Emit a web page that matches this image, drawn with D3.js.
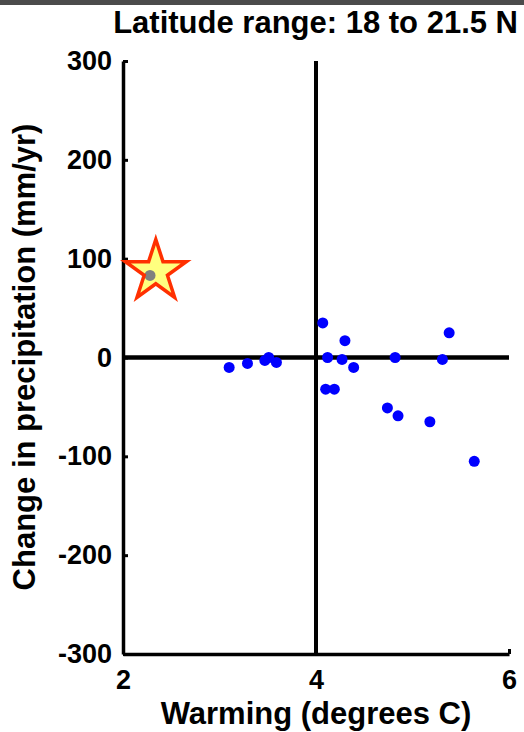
<!DOCTYPE html>
<html>
<head>
<meta charset="utf-8">
<script src="https://cdn.jsdelivr.net/npm/d3@7"></script>
<style>
  html, body { margin: 0; padding: 0; background: #fff; }
  svg { display: block; }
  text { font-family: "Liberation Sans", Arial, Helvetica, sans-serif; font-weight: bold; fill: #000; }
</style>
</head>
<body>
<script>
// Model ensemble: warming vs. change in precipitation
const warming = [3.10, 3.29, 3.47, 3.51, 3.59, 4.07, 4.12, 4.27, 4.30, 4.39, 4.10, 4.19, 4.82, 4.74, 4.85, 5.18, 5.38, 5.31, 5.64];
const precip  = [-10, -6, -3, 0, -5, 35, 0, -2, 17, -10, -32, -32, 0, -51, -59, -65, 25, -2, -105];

// Highlighted case (dot under the star marker)
const highlightWarming = [2.28];
const highlightPrecip = [83];
const starWarming = [2.34];
const starPrecip = [87];

const xTicks = [2, 4, 6];
const yTicks = [-300, -200, -100, 0, 100, 200, 300];
const titleText = "Latitude range: 18 to 21.5 N";
const xLabel = "Warming (degrees C)";
const yLabel = "Change in precipitation (mm/yr)";

const W = 524, H = 732;
const svg = d3.select("body").append("svg").attr("width", W).attr("height", H);

// top strip
svg.append("rect").attr("x", 0).attr("y", 0).attr("width", W).attr("height", 5).attr("fill", "#4b4b4b");

const x = d3.scaleLinear().domain([2, 6]).range([123, 509]);
const y = d3.scaleLinear().domain([-300, 300]).range([654, 61]);

const plain = d => String(d);

// axes (ticks point inward)
const yAxis = svg.append("g").attr("transform", `translate(${x(2)},0)`)
  .call(d3.axisLeft(y).tickValues(yTicks).tickFormat(plain).tickSizeInner(-5).tickSizeOuter(0).tickPadding(11));
const xAxis = svg.append("g").attr("transform", `translate(0,${y(-300)})`)
  .call(d3.axisBottom(x).tickValues(xTicks).tickFormat(plain).tickSizeInner(-5).tickSizeOuter(0).tickPadding(16));

[yAxis, xAxis].forEach(g => {
  g.select(".domain").attr("stroke", "#000").attr("stroke-width", 3.5);
  g.selectAll(".tick line").attr("stroke", "#000").attr("stroke-width", 3);
  g.selectAll(".tick text").style("font-size", "27px").attr("fill", "#000");
});
xAxis.selectAll(".tick text").attr("dy", "0.71em");

// reference lines at 4 degrees and zero change
svg.append("line").attr("x1", x(4)).attr("x2", x(4)).attr("y1", y(300)).attr("y2", y(-300))
  .attr("stroke", "#000").attr("stroke-width", 4);
svg.append("line").attr("x1", x(2)).attr("x2", x(6)).attr("y1", y(0)).attr("y2", y(0))
  .attr("stroke", "#000").attr("stroke-width", 4.5);

// ensemble dots
svg.append("g").selectAll("circle")
  .data(warming.map((w, i) => [w, precip[i]]))
  .join("circle")
  .attr("cx", d => x(d[0])).attr("cy", d => y(d[1])).attr("r", 5.5)
  .attr("fill", "#0000ff");

svg.append("g").selectAll("circle")
  .data(highlightWarming.map((w, i) => [w, highlightPrecip[i]]))
  .join("circle")
  .attr("cx", d => x(d[0])).attr("cy", d => y(d[1])).attr("r", 5.5)
  .attr("fill", "#0000ff");

// star marker, translucent fill
const R = 32;
const starPath = d3.symbol().type(d3.symbolStar).size(R * R / 0.8908130915292852);
svg.append("g").selectAll("path")
  .data(starWarming.map((w, i) => [w, starPrecip[i]]))
  .join("path")
  .attr("d", starPath)
  .attr("transform", d => `translate(${x(d[0])},${y(d[1])})`)
  .attr("fill", "#ffff00").attr("fill-opacity", 0.5)
  .attr("stroke", "#ff3000").attr("stroke-width", 3.5).attr("stroke-linejoin", "miter");

// title and axis labels
svg.append("text").attr("x", 518).attr("y", 33).attr("text-anchor", "end")
  .style("font-size", "31px").text(titleText);
svg.append("text").attr("x", 316).attr("y", 724).attr("text-anchor", "middle")
  .style("font-size", "31px").text(xLabel);
svg.append("text").attr("transform", "translate(35,357) rotate(-90)").attr("text-anchor", "middle")
  .style("font-size", "31px").text(yLabel);
</script>
</body>
</html>
